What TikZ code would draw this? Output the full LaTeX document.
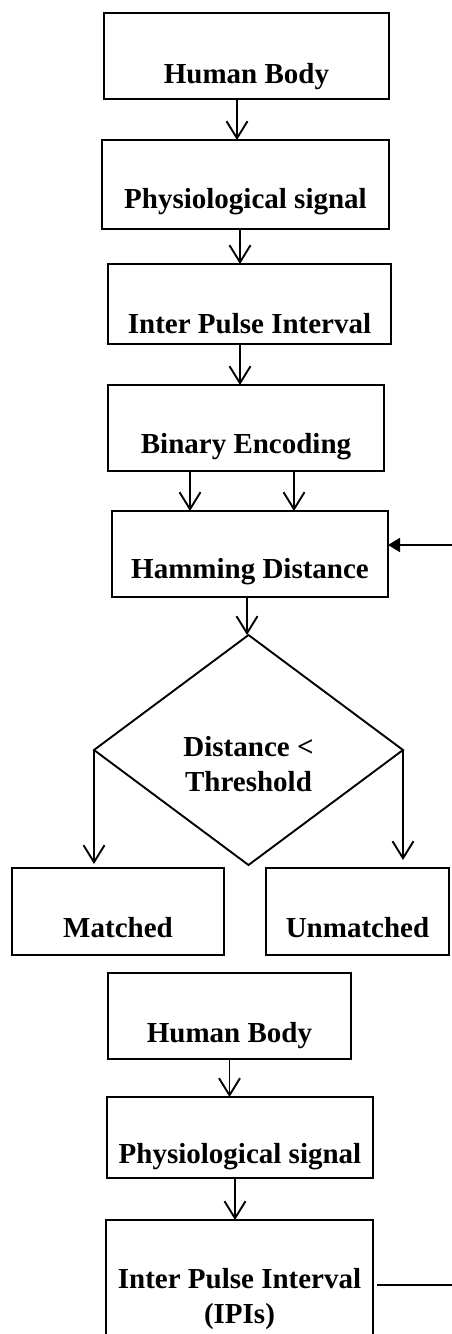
\documentclass[tikz,border=0pt]{standalone}
\usepackage{fontspec}
\setmainfont{Liberation Serif}
\usepackage{tikz}
\usetikzlibrary{shapes}
\usetikzlibrary{arrows,arrows.meta}
\usetikzlibrary{positioning}

\begin{document}
\begin{tikzpicture}[x=1pt,y=1pt]
  \tikzstyle{box}=[rectangle, draw=black, line width=1.9pt, inner sep=0pt, outer sep=0pt, text height=68pt, text depth=18pt, font=\bfseries\fontsize{29}{35}\selectfont]
  \tikzstyle{decision}=[diamond, draw=black, line width=1.9pt, inner sep=0pt, outer sep=0pt, minimum width=309pt, minimum height=230pt, align=center, text height=90pt, text depth=8pt, font=\bfseries\fontsize{29}{35}\selectfont]
  \tikzstyle{connect}=[-{Straight Barb[length=17pt,width=21pt]}, line width=1.9pt]
  \tikzstyle{feed}=[-{Triangle[length=12pt,width=14pt]}, line width=1.9pt]
  \clip (0,0) rectangle (452,-1334);
    \node[box, minimum width=285pt, text height=70pt, text depth=16pt] (body) at (246.5,-56) {Human Body};
    \node[box, minimum width=287pt, text depth=21pt] (signal) [below=41pt of body, xshift=-1pt] {Physiological signal};
    \node[box, minimum width=283pt, text height=69pt, text depth=11pt] (ipi) [below=35pt of signal, xshift=4pt] {Inter Pulse Interval};
    \node[box, minimum width=276pt] (enc) [below=41pt of ipi, xshift=-3.5pt] {Binary Encoding};
    \node[box, minimum width=276pt, text height=67pt, text depth=19pt] (hd) [below=40pt of enc, xshift=4pt] {Hamming Distance};
    \node[decision] (dt) [below=38pt of hd, xshift=-1.5pt] {Distance <\\Threshold};
    \node[box, minimum width=212pt, text height=69pt] (match) [below=3pt of dt, xshift=-130.5pt] {Matched};
    \node[box, minimum width=183pt, text height=69pt] (unmatch) [right=42pt of match] {Unmatched};
    \node[box, minimum width=243pt, text height=69pt, text depth=17pt] (body2) [below=18pt of match, xshift=111.5pt] {Human Body};
    \node[box, minimum width=266pt, text height=66pt, text depth=15pt] (signal2) [below=38pt of body2, xshift=10.5pt] {Physiological signal};
    \node[box, minimum width=267pt, align=center, text height=103pt, text depth=37pt] (ipi2) [below=42pt of signal2, xshift=-0.5pt] {Inter Pulse Interval\\(IPIs)};
    \coordinate (hdin) at (452,-545);
    \coordinate (ipiout) at (452,-1285);
    \path ([xshift=-9.5pt]body.south) edge [connect] ([xshift=-9.5pt]body.south |- signal.north)
          ([xshift=-5.5pt]signal.south) edge [connect] ([xshift=-5.5pt]signal.south |- ipi.north)
          ([xshift=-9.5pt]ipi.south) edge [connect] ([xshift=-9.5pt]ipi.south |- enc.north)
          ([xshift=-56pt]enc.south) edge [connect] ([xshift=-56pt]enc.south |- hd.north)
          ([xshift=48pt]enc.south) edge [connect] ([xshift=48pt]enc.south |- hd.north)
          (hdin) edge [feed] (hdin -| hd.east)
          ([xshift=-3pt]hd.south) edge [connect] ([xshift=-3pt]hd.south |- dt.north)
          (dt.west) edge [connect] ([yshift=4pt]dt.west |- match.north)
          (dt.east) edge [connect] ([yshift=8pt]dt.east |- unmatch.north)
          (body2.south) edge [connect] (body2.south |- signal2.north)
          ([xshift=-5pt]signal2.south) edge [connect] ([xshift=-5pt]signal2.south |- ipi2.north);
    \draw[line width=1.9pt] ([xshift=4pt]ipi2.east |- ipiout) -- (ipiout);
\end{tikzpicture}
\end{document}
